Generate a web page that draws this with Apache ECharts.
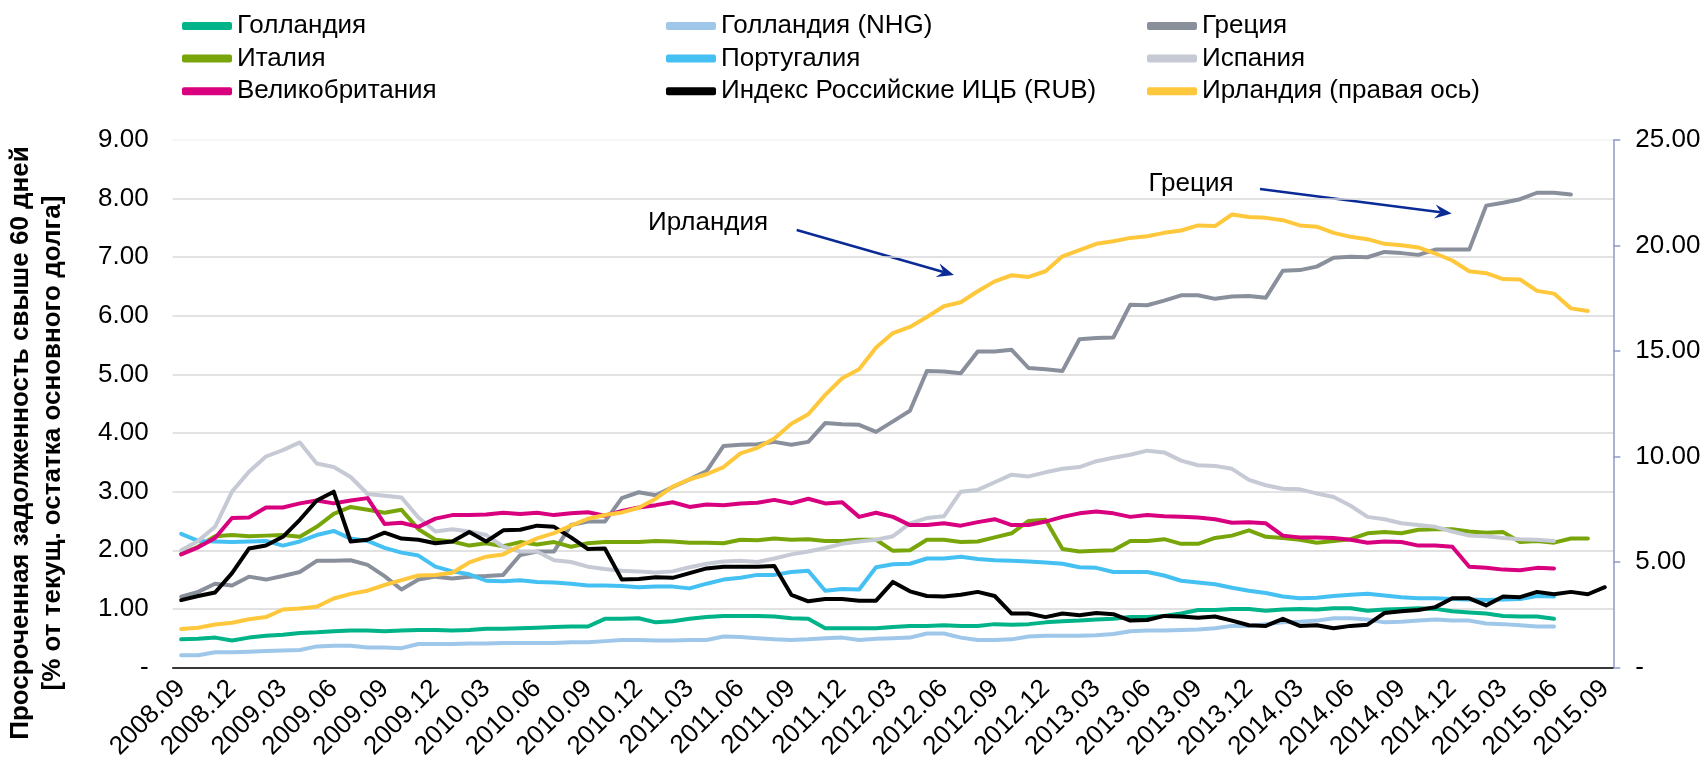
<!DOCTYPE html>
<html>
<head>
<meta charset="utf-8">
<script src="https://cdn.jsdelivr.net/npm/echarts@6/dist/echarts.min.js"></script>
<style>
  html, body { margin: 0; padding: 0; background: #fff; }
  #chart { width: 1705px; height: 768px; }
</style>
</head>
<body>
<div id="chart"></div>
<script>
// months 2008.09 .. 2015.09
const months = [
  '2008.09','2008.10','2008.11','2008.12',
  '2009.01','2009.02','2009.03','2009.04','2009.05','2009.06','2009.07','2009.08','2009.09','2009.10','2009.11','2009.12',
  '2010.01','2010.02','2010.03','2010.04','2010.05','2010.06','2010.07','2010.08','2010.09','2010.10','2010.11','2010.12',
  '2011.01','2011.02','2011.03','2011.04','2011.05','2011.06','2011.07','2011.08','2011.09','2011.10','2011.11','2011.12',
  '2012.01','2012.02','2012.03','2012.04','2012.05','2012.06','2012.07','2012.08','2012.09','2012.10','2012.11','2012.12',
  '2013.01','2013.02','2013.03','2013.04','2013.05','2013.06','2013.07','2013.08','2013.09','2013.10','2013.11','2013.12',
  '2014.01','2014.02','2014.03','2014.04','2014.05','2014.06','2014.07','2014.08','2014.09','2014.10','2014.11','2014.12',
  '2015.01','2015.02','2015.03','2015.04','2015.05','2015.06','2015.07','2015.08','2015.09'
]

const netherlands = [0.48,0.49,0.51,0.46,0.51,0.54,0.56,0.59,0.60,0.62, 0.63,0.63,0.62,0.63,0.64,0.64,0.63,0.64,0.66,0.66,
  0.67,0.68,0.69,0.70,0.70,0.83,0.83,0.84,0.77,0.79, 0.83,0.86,0.88,0.88,0.88,0.87,0.84,0.83,0.67,0.67,
  0.67,0.67,0.69,0.71,0.71,0.72,0.71,0.71,0.74,0.73, 0.74,0.77,0.79,0.80,0.82,0.83,0.86,0.86,0.88,0.92,
  0.98,0.98,1.00,1.00,0.97,0.99,1.00,0.99,1.01,1.01, 0.97,0.99,1.00,1.01,1.00,0.96,0.94,0.92,0.88,0.87, 0.87,0.83]
const netherlandsNhg = [0.21,0.21,0.26,0.26,0.27,0.28,0.29,0.30,0.36,0.37, 0.37,0.34,0.34,0.33,0.40,0.40,0.40,0.41,0.41,0.42,
  0.42,0.42,0.42,0.43,0.43,0.45,0.47,0.47,0.46,0.46, 0.47,0.47,0.53,0.52,0.50,0.48,0.47,0.48,0.50,0.51,
  0.47,0.49,0.50,0.51,0.58,0.58,0.51,0.47,0.47,0.48, 0.53,0.54,0.54,0.54,0.55,0.57,0.62,0.63,0.63,0.64,
  0.65,0.67,0.71,0.71,0.74,0.77,0.78,0.80,0.84,0.84, 0.82,0.77,0.78,0.80,0.82,0.80,0.80,0.75,0.74,0.72, 0.70,0.70]
const greece = [1.21,1.29,1.43,1.40,1.55,1.50,1.56,1.63,1.82,1.82, 1.83,1.75,1.56,1.33,1.50,1.55,1.52,1.55,1.56,1.58,
  1.92,1.98,1.98,2.43,2.49,2.49,2.89,2.99,2.94,3.08, 3.21,3.35,3.78,3.80,3.81,3.85,3.80,3.85,4.17,4.15,
  4.14,4.02,4.20,4.38,5.06,5.05,5.02,5.39,5.39,5.42, 5.11,5.09,5.06,5.60,5.62,5.63,6.19,6.18,6.26,6.35,
  6.35,6.29,6.33,6.34,6.31,6.77,6.78,6.84,6.99,7.01, 7.00,7.09,7.07,7.04,7.13,7.13,7.13,7.88,7.93,7.99, 8.10,8.10,8.07]
const italy = [1.94,2.06,2.24,2.26,2.24,2.25,2.26,2.23,2.40,2.62, 2.74,2.69,2.64,2.69,2.36,2.18,2.15,2.08,2.12,2.07,
  2.14,2.10,2.14,2.06,2.12,2.14,2.14,2.14,2.16,2.15, 2.13,2.13,2.12,2.18,2.17,2.20,2.18,2.19,2.16,2.16,
  2.18,2.18,1.99,2.00,2.18,2.18,2.14,2.15,2.22,2.29, 2.50,2.52,2.02,1.98,1.99,2.00,2.16,2.16,2.19,2.11,
  2.11,2.21,2.25,2.34,2.23,2.21,2.18,2.13,2.16,2.19, 2.29,2.31,2.29,2.35,2.36,2.36,2.32,2.30,2.31,2.14, 2.16,2.13,2.20,2.20]
const portugal = [2.28,2.16,2.15,2.14,2.15,2.16,2.08,2.15,2.26,2.33, 2.20,2.16,2.04,1.96,1.91,1.72,1.64,1.59,1.48,1.47,
  1.49,1.46,1.45,1.43,1.40,1.40,1.39,1.37,1.38,1.38, 1.35,1.43,1.50,1.53,1.58,1.58,1.63,1.65,1.31,1.34,
  1.33,1.71,1.76,1.77,1.86,1.86,1.89,1.85,1.83,1.82, 1.81,1.79,1.77,1.71,1.70,1.63,1.63,1.63,1.57,1.48,
  1.45,1.42,1.36,1.31,1.27,1.21,1.18,1.19,1.22,1.24, 1.26,1.23,1.20,1.18,1.18,1.17,1.16,1.15,1.16,1.17, 1.22,1.21]
const spain = [2.00,2.16,2.40,3.00,3.34,3.60,3.71,3.84,3.48,3.42, 3.25,2.96,2.93,2.90,2.56,2.32,2.36,2.32,2.26,2.06,
  1.98,1.98,1.83,1.80,1.72,1.68,1.65,1.64,1.62,1.64, 1.71,1.77,1.81,1.82,1.80,1.86,1.93,1.98,2.04,2.11,
  2.15,2.18,2.24,2.46,2.55,2.58,3.00,3.03,3.16,3.29, 3.26,3.33,3.39,3.42,3.52,3.58,3.63,3.70,3.67,3.53,
  3.45,3.44,3.39,3.20,3.11,3.05,3.04,2.97,2.91,2.76, 2.57,2.53,2.46,2.43,2.40,2.32,2.25,2.24,2.21,2.19, 2.18,2.16]
const uk = [1.93,2.05,2.21,2.55,2.56,2.73,2.73,2.80,2.85,2.80, 2.85,2.89,2.45,2.47,2.40,2.54,2.60,2.60,2.61,2.64,
  2.62,2.64,2.60,2.63,2.65,2.59,2.67,2.73,2.77,2.82, 2.74,2.78,2.77,2.80,2.81,2.86,2.80,2.88,2.80,2.82,
  2.57,2.64,2.57,2.43,2.43,2.46,2.42,2.48,2.53,2.43, 2.43,2.49,2.57,2.63,2.66,2.63,2.57,2.60,2.58,2.57,
  2.56,2.53,2.47,2.48,2.46,2.25,2.22,2.22,2.21,2.18, 2.13,2.15,2.14,2.08,2.08,2.06,1.72,1.70,1.67,1.66, 1.70,1.69]
const russiaRmbs = [1.15,1.22,1.28,1.61,2.03,2.08,2.23,2.52,2.85,3.00, 2.15,2.18,2.30,2.20,2.18,2.12,2.15,2.31,2.15,2.34,
  2.35,2.42,2.40,2.22,2.02,2.03,1.50,1.51,1.54,1.53, 1.61,1.69,1.72,1.72,1.72,1.73,1.24,1.13,1.17,1.17,
  1.14,1.14,1.46,1.30,1.22,1.21,1.24,1.29,1.22,0.92, 0.92,0.86,0.92,0.89,0.93,0.91,0.80,0.81,0.88,0.87,
  0.85,0.87,0.80,0.72,0.71,0.83,0.71,0.72,0.67,0.71, 0.73,0.93,0.96,0.98,1.03,1.18,1.18,1.06,1.21,1.20, 1.29,1.25,1.29,1.25,1.37]
// right axis
const ireland = [1.83,1.88,2.04,2.12,2.29,2.39,2.75,2.80,2.88,3.27, 3.49,3.64,3.91,4.14,4.36,4.38,4.49,4.98,5.25,5.36,
  5.77,6.12,6.37,6.72,7.05,7.23,7.35,7.57,8.00,8.57, 8.92,9.16,9.50,10.15,10.41,10.85,11.55,12.00,12.92,13.71,
  14.14,15.17,15.85,16.14,16.61,17.12,17.31,17.83,18.30,18.59, 18.51,18.78,19.49,19.78,20.08,20.20,20.36,20.44,20.60,20.71,
  20.95,20.92,21.47,21.35,21.31,21.20,20.95,20.89,20.60,20.41, 20.30,20.08,20.01,19.91,19.62,19.29,18.78,18.69,18.41,18.39, 17.85,17.72,17.02,16.90]

const FONT = '"Liberation Sans", Arial, sans-serif'

const seriesDefs = [
  { name: 'Голландия', data: netherlands, color: '#00b388', axis: 0 },
  { name: 'Голландия (NHG)', data: netherlandsNhg, color: '#9fc7ea', axis: 0 },
  { name: 'Греция', data: greece, color: '#8a8f9c', axis: 0 },
  { name: 'Италия', data: italy, color: '#78a60a', axis: 0 },
  { name: 'Португалия', data: portugal, color: '#44c0f2', axis: 0 },
  { name: 'Испания', data: spain, color: '#c6cad4', axis: 0 },
  { name: 'Великобритания', data: uk, color: '#d8007f', axis: 0 },
  { name: 'Индекс Российские ИЦБ (RUB)', data: russiaRmbs, color: '#000000', axis: 0 },
  { name: 'Ирландия (правая ось)', data: ireland, color: '#ffc83c', axis: 1 }
]

const legendCols = [
  ['Голландия', 'Италия', 'Великобритания'],
  ['Голландия (NHG)', 'Португалия', 'Индекс Российские ИЦБ (RUB)'],
  ['Греция', 'Испания', 'Ирландия (правая ось)']
]
const legendLeft = [177, 661, 1142]

function fmt(v) {
  return v === 0 ? '-' : v.toFixed(2)
}

function arrow(x1, y1, x2, y2) {
  let dx = x2 - x1, dy = y2 - y1
  let len = Math.sqrt(dx * dx + dy * dy)
  let ux = dx / len, uy = dy / len
  let nx = -uy, ny = ux
  let L = 17, W = 7, notch = 6
  let bx = x2 - ux * L, by = y2 - uy * L
  let mx = x2 - ux * (L - notch), my = y2 - uy * (L - notch)
  return [
    { type: 'line', shape: { x1, y1, x2: mx, y2: my }, style: { stroke: '#0a2a96', lineWidth: 2.5 } },
    { type: 'polygon', shape: { points: [[x2, y2], [bx + nx * W, by + ny * W], [mx, my], [bx - nx * W, by - ny * W]] },
      style: { fill: '#0a2a96' } }
  ]
}

const chart = echarts.init(document.getElementById('chart'))

chart.setOption({
  animation: false,
  backgroundColor: '#fff',
  textStyle: { fontFamily: FONT },
  legend: legendCols.map((col, k) => ({
    orient: 'vertical',
    left: legendLeft[k],
    top: 8,
    itemWidth: 50,
    itemHeight: 8,
    itemGap: 6.6,
    icon: 'roundRect',
    selectedMode: false,
    data: col,
    textStyle: { fontSize: 26, color: '#000', fontFamily: FONT }
  })),
  grid: { left: 172.7, right: 91.7, top: 140, bottom: 100.5, containLabel: false },
  xAxis: {
    type: 'category',
    data: months,
    boundaryGap: true,
    axisLine: { lineStyle: { color: '#000', width: 1.5 } },
    axisTick: { interval: 2, length: 8, lineStyle: { color: '#404040', width: 1.5 } },
    axisLabel: { interval: 2, rotate: 45, fontSize: 26, color: '#000', margin: 17, fontFamily: FONT },
    splitLine: { show: false }
  },
  yAxis: [
    {
      type: 'value', min: 0, max: 9, interval: 1,
      axisLine: { show: false },
      axisTick: { show: false },
      axisLabel: { fontSize: 26, color: '#000', margin: 24, formatter: fmt, fontFamily: FONT },
      splitLine: { lineStyle: { color: ['#d9d9d9', '#d9d9d9', '#d9d9d9', '#d9d9d9', '#d9d9d9', '#d9d9d9', '#d9d9d9', '#d9d9d9', '#d9d9d9', '#f3f3f3'], width: 1.5 } }
    },
    {
      type: 'value', min: 0, max: 25, interval: 5, position: 'right',
      axisLine: { show: true, lineStyle: { color: '#8f98c9', width: 1.5 } },
      axisTick: { show: true, length: 7, lineStyle: { color: '#8f98c9', width: 1.5 } },
      axisLabel: { fontSize: 26, color: '#000', margin: 22, formatter: fmt, fontFamily: FONT },
      splitLine: { show: false }
    }
  ],
  series: seriesDefs.map(s => ({
    name: s.name,
    type: 'line',
    data: s.data,
    yAxisIndex: s.axis,
    showSymbol: false,
    symbol: 'none',
    color: s.color,
    lineStyle: { color: s.color, width: 4, cap: 'round', join: 'round' },
    emphasis: { disabled: true }
  })),
  graphic: [
    {
      type: 'text', x: 37, y: 443, rotation: Math.PI / 2,
      style: {
        text: 'Просроченная задолженность свыше 60 дней\n[% от текущ. остатка основного долга]',
        font: 'bold 26px ' + FONT, fill: '#000', textAlign: 'center', textVerticalAlign: 'middle', lineHeight: 32
      }
    },
    { type: 'text', x: 708, y: 223, style: { text: 'Ирландия', font: '26px ' + FONT, fill: '#000', textAlign: 'center', textVerticalAlign: 'middle' } },
    { type: 'text', x: 1191, y: 184, style: { text: 'Греция', font: '26px ' + FONT, fill: '#000', textAlign: 'center', textVerticalAlign: 'middle' } },
    ...arrow(796.7, 230, 954, 275),
    ...arrow(1260, 189, 1451.7, 213.6)
  ]
})
</script>
</body>
</html>
